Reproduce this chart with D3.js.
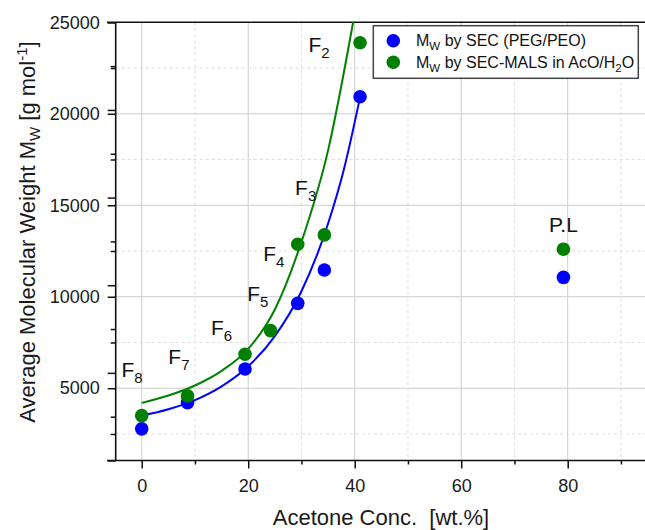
<!DOCTYPE html>
<html>
  <head>
    <meta charset="UTF-8" />
    <script src="https://d3js.org/d3.v7.min.js"></script>
    <style>
      body { margin: 0; background: #fff; }
      svg { font-family: "Liberation Sans", Arial, sans-serif; }
    </style>
  </head>
  <body>
    <div id="chart"></div>
    <script>
      // data
      const acetoneSEC = [0, 8.6, 19.4, 29.3, 34.3, 41.0, 79.2];
      const mwSEC = [2780, 4210, 6050, 9640, 11460, 20930, 11060];
      const acetoneMALS = [0, 8.6, 19.4, 24.2, 29.3, 34.3, 41.0, 79.2];
      const mwMALS = [3500, 4580, 6860, 8150, 12870, 13380, 23880, 12600];

      // fitted curves
      const fitSECx = [0, 5, 10, 15, 20, 25, 30, 35, 38, 41];
      const fitSECy = [3500, 3850, 4350, 5100, 6200, 7850, 10300, 14000, 17000, 20900];
      const fitMALSx = [0, 5, 10, 15, 20, 25, 30, 35, 39.7];
      const fitMALSy = [4200, 4600, 5150, 5950, 7150, 9300, 13000, 18000, 25000];

      const fractionNames = ["2", "3", "4", "5", "6", "7", "8"];
      const fractionX = [31.3, 28.8, 22.8, 19.8, 13.0, 5.0, -3.8];
      const fractionY = [23390, 15560, 11970, 9790, 7910, 6310, 5600];

      const xMajor = [0, 20, 40, 60, 80];
      const xMinor = [10, 30, 50, 70, 90];
      const yMajor = [5000, 10000, 15000, 20000, 25000];
      const yMinor = [2500, 7500, 12500, 17500, 22500];

      const w = 645, h = 530;
      const blue = "#0000ff", green = "#008000";

      const svg = d3.select("#chart").append("svg").attr("width", w).attr("height", h);

      const x = d3.scaleLinear().domain([-5, 100]).range([115.1, 674.2]);
      const y = d3.scaleLinear().domain([1050, 25000]).range([460.5, 22.3]);
      // second set of ticks on the left axis (0 - 25000)
      const y2 = d3.scaleLinear().domain([0, 25000]).range([460.5, 22.3]);

      const plotLeft = 115.7, plotTop = 22.3, plotBottom = 460.5;

      // grid
      const grid = svg.append("g");
      grid.selectAll(".vmaj").data(xMajor).enter().append("line")
        .attr("x1", d => x(d)).attr("x2", d => x(d)).attr("y1", plotTop).attr("y2", plotBottom)
        .attr("stroke", "#cccccc").attr("stroke-width", 1);
      grid.selectAll(".vmin").data(xMinor).enter().append("line")
        .attr("x1", d => x(d)).attr("x2", d => x(d)).attr("y1", plotTop).attr("y2", plotBottom)
        .attr("stroke", "#dddddd").attr("stroke-width", 1).attr("stroke-dasharray", "3,3");
      grid.selectAll(".hmaj").data(yMajor.filter(d => d < 25000)).enter().append("line")
        .attr("x1", plotLeft).attr("x2", w).attr("y1", d => y(d)).attr("y2", d => y(d))
        .attr("stroke", "#cccccc").attr("stroke-width", 1);
      grid.selectAll(".hmin").data(yMinor).enter().append("line")
        .attr("x1", plotLeft).attr("x2", w).attr("y1", d => y(d)).attr("y2", d => y(d))
        .attr("stroke", "#dddddd").attr("stroke-width", 1).attr("stroke-dasharray", "3,3");

      // axes
      svg.append("g").attr("transform", "translate(0," + plotBottom + ")")
        .call(d3.axisBottom(x).tickValues(xMajor).tickSize(8).tickPadding(11).tickSizeOuter(0));
      svg.append("g").attr("transform", "translate(0," + plotBottom + ")")
        .call(d3.axisBottom(x).tickValues(xMinor).tickSize(4).tickFormat("").tickSizeOuter(0));
      svg.append("g").attr("transform", "translate(" + plotLeft + ",0)")
        .call(d3.axisLeft(y).tickValues(yMajor).tickSize(8).tickPadding(8).tickFormat(d3.format("d")).tickSizeOuter(0));
      svg.append("g").attr("transform", "translate(" + plotLeft + ",0)")
        .call(d3.axisLeft(y).tickValues(yMinor).tickSize(5).tickFormat("").tickSizeOuter(0));
      svg.append("g").attr("class", "y2").attr("transform", "translate(" + plotLeft + ",0)")
        .call(d3.axisLeft(y2).tickValues(d3.range(0, 25001, 2500)).tickSize(5).tickFormat("").tickSizeOuter(0));
      svg.selectAll(".y2 .tick line").attr("x2", d => (d % 5000 === 0 ? -8 : -5));

      svg.selectAll(".domain").remove();
      svg.selectAll(".tick line").attr("stroke", "#111").attr("stroke-width", 1.5);
      svg.selectAll(".tick text").attr("fill", "#1a1a1a").style("font-size", "18px");

      // frame
      svg.append("line").attr("x1", 107).attr("x2", w).attr("y1", plotTop).attr("y2", plotTop)
        .attr("stroke", "#111").attr("stroke-width", 1.6);
      svg.append("line").attr("x1", 107).attr("x2", w).attr("y1", plotBottom).attr("y2", plotBottom)
        .attr("stroke", "#111").attr("stroke-width", 1.6);
      svg.append("line").attr("x1", plotLeft).attr("x2", plotLeft).attr("y1", plotTop).attr("y2", plotBottom)
        .attr("stroke", "#111").attr("stroke-width", 1.6);

      // fit lines
      const line = d3.line().x(d => x(d[0])).y(d => y(d[1])).curve(d3.curveMonotoneX);
      svg.append("path").datum(d3.zip(fitMALSx, fitMALSy)).attr("d", line)
        .attr("fill", "none").attr("stroke", green).attr("stroke-width", 2);
      svg.append("path").datum(d3.zip(fitSECx, fitSECy)).attr("d", line)
        .attr("fill", "none").attr("stroke", blue).attr("stroke-width", 2);

      // points
      svg.selectAll(".sec").data(d3.zip(acetoneSEC, mwSEC)).enter().append("circle")
        .attr("cx", d => x(d[0])).attr("cy", d => y(d[1])).attr("r", 6.8).attr("fill", blue);
      svg.selectAll(".mals").data(d3.zip(acetoneMALS, mwMALS)).enter().append("circle")
        .attr("cx", d => x(d[0])).attr("cy", d => y(d[1])).attr("r", 6.8).attr("fill", green);

      // fraction labels
      fractionNames.forEach(function (n, i) {
        const t = svg.append("text").attr("x", x(fractionX[i])).attr("y", y(fractionY[i]))
          .attr("fill", "#111").style("font-size", "21px");
        t.append("tspan").text("F");
        t.append("tspan").attr("dy", 6).style("font-size", "15px").text(n);
      });
      svg.append("text").attr("x", x(76.5)).attr("y", y(13560))
        .attr("fill", "#111").style("font-size", "21px").text("P.L");

      // axis titles
      svg.append("text").attr("x", 381).attr("y", 525).attr("text-anchor", "middle")
        .attr("fill", "#1a1a1a").style("font-size", "22px").text("Acetone Conc.\u00a0 [wt.%]");
      const yt = svg.append("text").attr("transform", "translate(35,232) rotate(-90)")
        .attr("text-anchor", "middle").attr("fill", "#1a1a1a").style("font-size", "22px");
      yt.append("tspan").text("Average Molecular Weight M");
      yt.append("tspan").attr("dy", 5).style("font-size", "15px").text("W");
      yt.append("tspan").attr("dy", -5).text(" [g mol");
      yt.append("tspan").attr("dy", -8).style("font-size", "15px").text("-1");
      yt.append("tspan").attr("dy", 8).text("]");

      // legend
      const lg = svg.append("g");
      lg.append("rect").attr("x", 373.3).attr("y", 25.7).attr("width", 265).attr("height", 52.6)
        .attr("fill", "#fff").attr("stroke", "#444").attr("stroke-width", 1.5);
      const rows = [
        { c: blue, a: " by SEC (PEG/PEO)", b: null },
        { c: green, a: " by SEC-MALS in AcO/H", b: "O" },
      ];
      rows.forEach(function (r, i) {
        const cy = 40.7 + i * 21.6;
        lg.append("circle").attr("cx", 393.3).attr("cy", cy).attr("r", 6.8).attr("fill", r.c);
        const t = lg.append("text").attr("x", 416).attr("y", cy + 5.6)
          .attr("fill", "#111").style("font-size", "16px");
        t.append("tspan").text("M");
        t.append("tspan").attr("dy", 4).style("font-size", "11.5px").text("W");
        t.append("tspan").attr("dy", -4).text(r.a);
        if (r.b) {
          t.append("tspan").attr("dy", 4).style("font-size", "11.5px").text("2");
          t.append("tspan").attr("dy", -4).text(r.b);
        }
      });
    </script>
  </body>
</html>
